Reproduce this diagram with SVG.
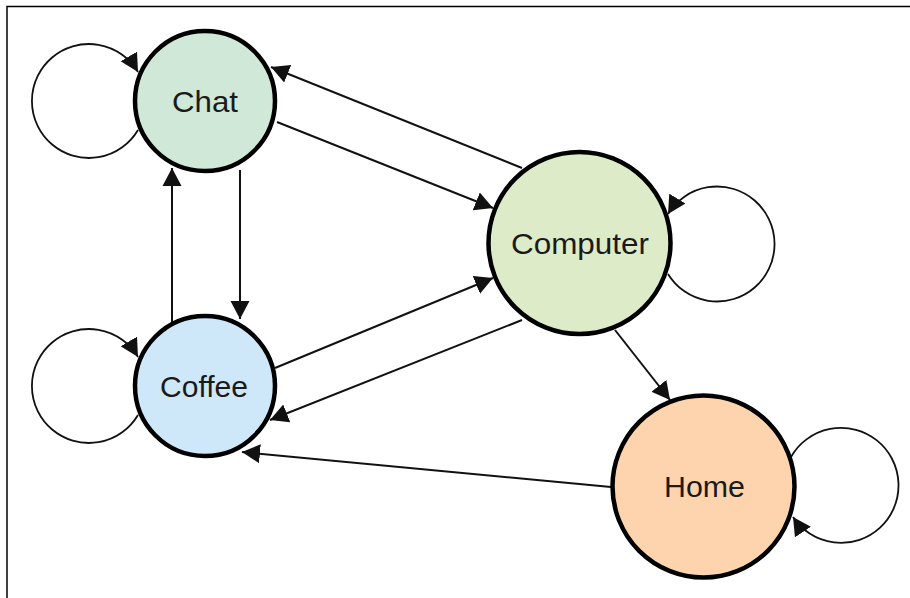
<svg xmlns="http://www.w3.org/2000/svg" width="910" height="598" viewBox="0 0 910 598">
  <style>
    .node { stroke: #000; stroke-width: 4.5; }
    .label { font-family: "Liberation Sans", Arial, sans-serif; font-size: 29px; fill: #1a1a1a; text-anchor: middle; }
    .edge { fill: none; stroke: #111; stroke-width: 2; marker-end: url(#arrow); }
    .loop { fill: none; stroke: #111; stroke-width: 1.8; marker-end: url(#arrow); }
    .frame { fill: none; stroke: #000; stroke-width: 1.5; }
  </style>
  <defs>
    <marker id="arrow" markerUnits="userSpaceOnUse" markerWidth="20" markerHeight="20" refX="18" refY="10" orient="auto" viewBox="0 0 20 20">
      <path d="M0,0.5 L18,10 L0,19.5 z" fill="#111"/>
    </marker>
  </defs>
  <rect x="0" y="0" width="910" height="598" fill="#fff"/>
  <path class="frame" d="M7,598 V6.5 H910"/>

  <g id="connectors">
    <path class="loop" d="M138,130 A57,57 0 1 1 138,72"/>
    <path class="loop" d="M138,415 A57,57 0 1 1 138,357"/>
    <path class="loop" d="M668,274 A57.5,57.5 0 1 0 668,214"/>
    <path class="loop" d="M791,457 A57.5,57.5 0 1 1 793,517"/>
    <line class="edge" x1="277" y1="122" x2="493" y2="208"/>
    <line class="edge" x1="522" y1="168" x2="271" y2="67"/>
    <line class="edge" x1="240" y1="170" x2="240" y2="319"/>
    <line class="edge" x1="172" y1="322" x2="172" y2="168"/>
    <line class="edge" x1="275" y1="368" x2="493" y2="278"/>
    <line class="edge" x1="522" y1="320" x2="270" y2="420"/>
    <line class="edge" x1="615" y1="330" x2="670" y2="400"/>
    <line class="edge" x1="611" y1="487" x2="242" y2="452"/>
  </g>

  <g id="chat">
    <circle class="node" cx="205" cy="101" r="70" fill="#d0e8d7"/>
    <text class="label" x="205" y="112" textLength="66" lengthAdjust="spacingAndGlyphs">Chat</text>
  </g>
  <g id="coffee">
    <circle class="node" cx="205" cy="386" r="70" fill="#cfe8f9"/>
    <text class="label" x="204" y="397" textLength="88" lengthAdjust="spacingAndGlyphs">Coffee</text>
  </g>
  <g id="computer">
    <circle class="node" cx="579.5" cy="243" r="91" fill="#deebc8"/>
    <text class="label" x="580" y="254" textLength="138" lengthAdjust="spacingAndGlyphs">Computer</text>
  </g>
  <g id="home">
    <circle class="node" cx="703.5" cy="486.5" r="91" fill="#fdd4ad"/>
    <text class="label" x="704.5" y="497" textLength="81" lengthAdjust="spacingAndGlyphs">Home</text>
  </g>
</svg>
